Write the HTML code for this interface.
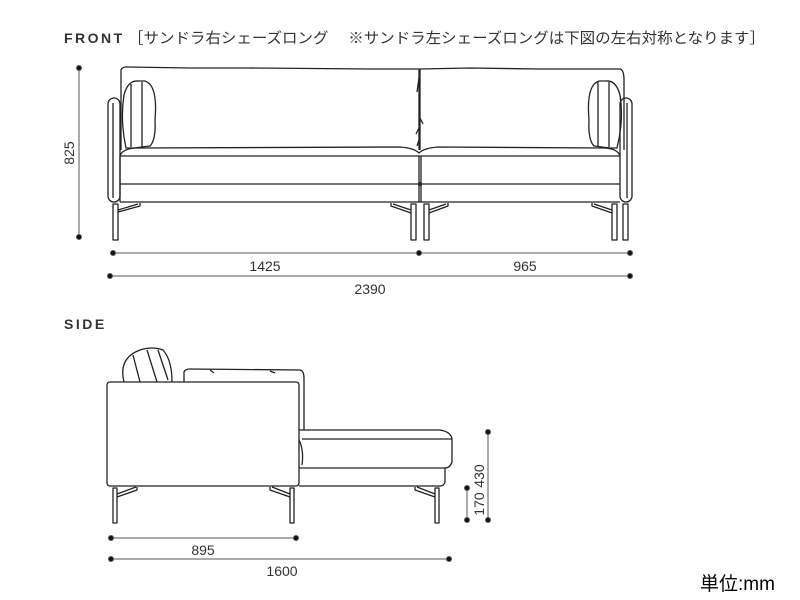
<!DOCTYPE html>
<html><head><meta charset="utf-8"><style>
html,body{margin:0;padding:0;background:#fff;}
svg{display:block;}
text{font-family:"Liberation Sans","Noto Sans CJK JP",sans-serif;fill:#333;}
</style></head><body>
<svg width="800" height="600" viewBox="0 0 800 600" xmlns="http://www.w3.org/2000/svg">
<text x="64" y="43" font-size="14" font-weight="bold" letter-spacing="2.5">FRONT</text>
<text x="128" y="43" font-size="15" textLength="637" lengthAdjust="spacingAndGlyphs">［サンドラ右シェーズロング　 ※サンドラ左シェーズロングは下図の左右対称となります］</text>
<text x="64" y="329" font-size="14" font-weight="bold" letter-spacing="2.5">SIDE</text>
<text x="700" y="590" font-size="19" style="fill:#000">単位:mm</text>

<g fill="none" stroke="#222" stroke-width="1.3" stroke-linejoin="round">
<path d="M121,150 L121,70 Q122,67 126,67 L190,68 L250,68 L370,69 L419,69 L419,150"/>
<path d="M420,150 L420,69 L470,68 L540,69 L620,69 Q624,70 624,80 L624,150"/>
<path d="M419,78 L417,92 M419,128 L416,134 M419,140 L417,146 M420,118 L423,124"/>
<rect x="108" y="98" width="12" height="104" rx="6"/>
<line x1="113" y1="103" x2="113" y2="198"/>
<rect x="620" y="98" width="12" height="104" rx="6"/>
<line x1="627" y1="103" x2="627" y2="198"/>
<path d="M126,148 Q120,120 124,95 Q128,80 138,81 L145,81 Q158,85 155,120 Q156,140 150,146 L134,148 Z"/>
<line x1="131" y1="84" x2="131" y2="147"/><line x1="142" y1="82" x2="142" y2="147"/>
<path d="M617,148 Q624,120 620,95 Q616,80 606,81 L599,81 Q586,85 589,120 Q588,140 594,146 L610,148 Z"/>
<line x1="598" y1="82" x2="598" y2="147"/><line x1="609" y1="82" x2="609" y2="147"/>
<path d="M120,156 Q122,149 135,148 L400,147 Q414,148 419,153 Q424,148 438,147 L605,148 Q618,149 620,156"/>
<line x1="120" y1="156" x2="620" y2="156"/>
<line x1="120" y1="184" x2="620" y2="184"/>
<line x1="120" y1="202" x2="620" y2="202"/>
<line x1="120" y1="156" x2="120" y2="202"/>
<line x1="419" y1="156" x2="419" y2="202"/><line x1="421" y1="156" x2="421" y2="202"/>
<circle cx="420" cy="184" r="1.5"/>
<rect x="113" y="204" width="5" height="36"/>
<path d="M118,210 L138,204 M118,212 L140,206 L140,203"/>
<rect x="411" y="204" width="5" height="36"/>
<path d="M411,210 L393,204 M411,213 L391,206 L391,203"/>
<rect x="424" y="204" width="5" height="36"/>
<path d="M429,210 L446,204 M429,213 L448,206 L448,203"/>
<rect x="612" y="204" width="5" height="36"/>
<path d="M612,210 L594,204 M612,213 L592,206 L592,203"/>
<rect x="623" y="204" width="5" height="36"/>

<path d="M124,382 Q118,358 140,350 Q152,346 163,350 Q172,360 172,382"/>
<path d="M133,355 L140,382 M147,350 L157,382 M158,350 L168,380"/>
<path d="M184,382 L184,372 Q185,369 190,369 L300,370 Q304,371 304,378 L304,430"/>
<path d="M210,370 L214,373 M270,371 L275,373"/>
<rect x="107" y="382" width="192" height="104" rx="3"/>
<path d="M299,430 L440,430 Q452,432 452,440 L452,462 Q450,468 445,468 L299,468"/>
<line x1="302" y1="439" x2="452" y2="439"/>
<path d="M299,440 Q304,450 302,465"/>
<path d="M445,468 L445,482 Q444,486 440,486 L299,486"/>
<rect x="113" y="488" width="4" height="35"/>
<path d="M117,494 L136,487 M117,497 L137,490 L137,487"/>
<rect x="290" y="488" width="4" height="35"/>
<path d="M290,494 L272,487 M290,497 L270,490 L270,487"/>
<rect x="435" y="488" width="4" height="35"/>
<path d="M435,494 L417,487 M435,497 L415,490 L415,487"/>
</g>

<g stroke="#555" stroke-width="1" fill="#111">
<line x1="79" y1="68" x2="79" y2="237"/>
<circle cx="79" cy="68" r="2.5"/><circle cx="79" cy="237" r="2.5"/>
<line x1="113" y1="253" x2="630" y2="253"/>
<circle cx="113" cy="253" r="2.5"/><circle cx="419" cy="253" r="2.5"/><circle cx="630" cy="253" r="2.5"/>
<line x1="110" y1="276" x2="630" y2="276"/>
<circle cx="110" cy="276" r="2.5"/><circle cx="630" cy="276" r="2.5"/>
<line x1="488" y1="432" x2="488" y2="520"/>
<circle cx="488" cy="432" r="2.5"/><circle cx="488" cy="520" r="2.5"/>
<line x1="467" y1="488" x2="467" y2="520"/>
<circle cx="467" cy="488" r="2.5"/><circle cx="467" cy="520" r="2.5"/>
<line x1="111" y1="538" x2="296" y2="538"/>
<circle cx="111" cy="538" r="2.5"/><circle cx="296" cy="538" r="2.5"/>
<line x1="111" y1="559" x2="449" y2="559"/>
<circle cx="111" cy="559" r="2.5"/><circle cx="449" cy="559" r="2.5"/>
</g>
<g font-size="14">
<text x="74" y="153" text-anchor="middle" transform="rotate(-90 74 153)">825</text>
<text x="265" y="271" text-anchor="middle">1425</text>
<text x="525" y="271" text-anchor="middle">965</text>
<text x="370" y="294" text-anchor="middle">2390</text>
<text x="484" y="476" text-anchor="middle" transform="rotate(-90 484 476)">430</text>
<text x="484" y="504" text-anchor="middle" transform="rotate(-90 484 504)">170</text>
<text x="203" y="555" text-anchor="middle">895</text>
<text x="282" y="576" text-anchor="middle">1600</text>
</g>
</svg>
</body></html>
